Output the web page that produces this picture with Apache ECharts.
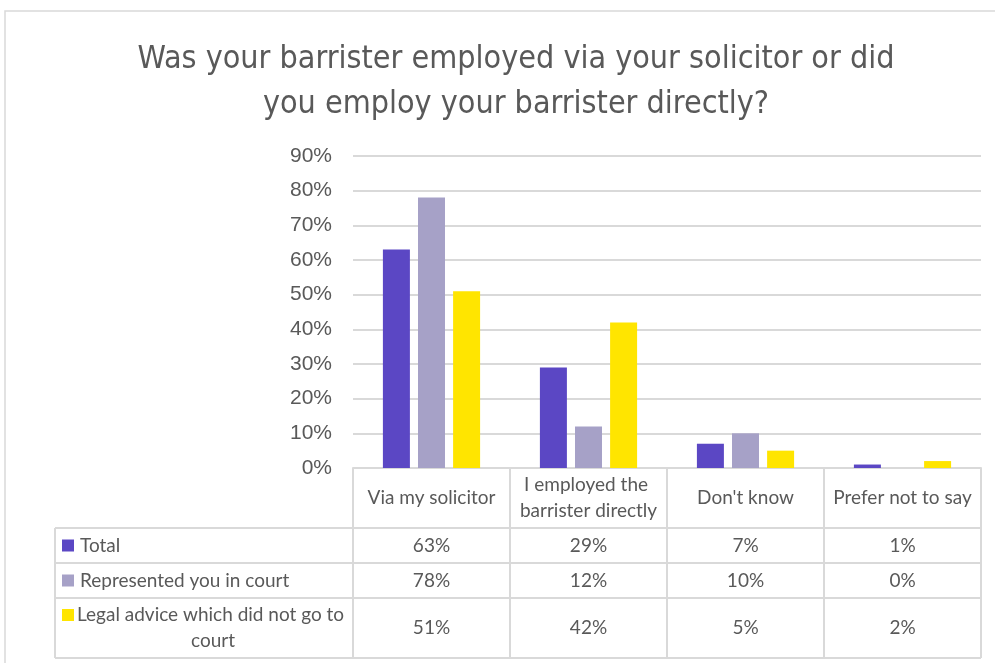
<!DOCTYPE html>
<html>
<head>
<meta charset="utf-8">
<script src="https://cdn.jsdelivr.net/npm/echarts@6/dist/echarts.min.js"></script>
<style>
  html, body { margin: 0; padding: 0; background: #ffffff; }
  #chart { width: 995px; height: 663px; }
</style>
</head>
<body>
<div id="chart"></div>
<script>
// Survey answers (percent of respondents)
const categories = ['Via my solicitor', 'I employed the barrister directly', "Don't know", 'Prefer not to say'];
const seriesNames = ['Total', 'Represented you in court', 'Legal advice which did not go to court'];
const totalValues = [63, 29, 7, 1];
const courtValues = [78, 12, 10, 0];
const adviceValues = [51, 42, 5, 2];
const yTicks = [0, 10, 20, 30, 40, 50, 60, 70, 80, 90];

const colors = ['#5b47c4', '#a6a1c7', '#ffe500'];
const seriesValues = [totalValues, courtValues, adviceValues];
const textColor = '#595959';
const lineColor = '#d9d9d9';
const tableFont = 'Lato, "Open Sans", sans-serif';
const tableSize = 19;

const chart = echarts.init(document.getElementById('chart'), null, { renderer: 'canvas' });

// Plot area and data table geometry
const G = { left: 353, right: 14, top: 156, bottom: 195 };
const tableLeft = 55;
const headerBottom = 528;
const rowBounds = [528, 563, 598, 658];

chart.setOption({
  backgroundColor: '#ffffff',
  animation: false,
  title: {
    text: 'Was your barrister employed via your solicitor or did\nyou employ your barrister directly?',
    left: 511,
    top: 32,
    textAlign: 'center',
    textStyle: {
      fontFamily: '"DejaVu Sans Condensed", sans-serif',
      fontSize: 32,
      fontWeight: 'normal',
      color: textColor,
      lineHeight: 45
    }
  },
  grid: { left: G.left, right: G.right, top: G.top, bottom: G.bottom, containLabel: false },
  xAxis: {
    type: 'category',
    data: categories,
    axisLine: { show: true, lineStyle: { color: lineColor, width: 2 } },
    axisTick: { show: true, alignWithLabel: false, length: 190, lineStyle: { color: lineColor, width: 2 } },
    axisLabel: {
      interval: 0,
      margin: 30,
      verticalAlign: 'middle',
      width: 150,
      overflow: 'break',
      lineHeight: 26,
      fontSize: tableSize,
      fontFamily: tableFont,
      color: textColor
    }
  },
  yAxis: {
    type: 'value',
    min: yTicks[0],
    max: yTicks[yTicks.length - 1],
    interval: yTicks[1] - yTicks[0],
    axisLine: { show: false },
    axisTick: { show: false },
    splitLine: { lineStyle: { color: lineColor, width: 2 } },
    axisLabel: {
      margin: 21,
      fontSize: 21,
      fontFamily: '"Liberation Sans", Arial, sans-serif',
      color: textColor,
      formatter: '{value}%'
    }
  },
  series: seriesNames.map((name, i) => ({
    name: name,
    type: 'bar',
    data: seriesValues[i],
    barWidth: 27,
    barGap: '30%',
    itemStyle: { color: colors[i] }
  }))
});

// Data table below the plot: row keys, row labels and the values of each series
function buildTable() {
  const els = [];
  const right = 995 - G.right;
  // outer frame of the chart area
  els.push({ type: 'rect', shape: { x: 5, y: 11, width: 1000, height: 700 }, style: { fill: 'none', stroke: lineColor, lineWidth: 1.5 }, silent: true });
  rowBounds.forEach(y => {
    els.push({ type: 'line', shape: { x1: tableLeft, y1: y, x2: right, y2: y }, style: { stroke: lineColor, lineWidth: 2 }, silent: true });
  });
  els.push({ type: 'line', shape: { x1: tableLeft, y1: headerBottom, x2: tableLeft, y2: rowBounds[rowBounds.length - 1] }, style: { stroke: lineColor, lineWidth: 2 }, silent: true });

  seriesNames.forEach((name, r) => {
    const y0 = rowBounds[r], y1 = rowBounds[r + 1];
    const cy = (y0 + y1) / 2;
    const wraps = name.length > 30;
    const keyY = wraps ? y0 + 11 : cy - 6;
    els.push({ type: 'rect', shape: { x: 62, y: keyY, width: 12, height: 12 }, style: { fill: colors[r] }, silent: true });
    els.push({
      type: 'text',
      x: wraps ? 213 : 80,
      y: cy,
      style: {
        text: name,
        width: 285,
        overflow: 'break',
        lineHeight: 26,
        font: tableSize + 'px ' + tableFont,
        fill: textColor,
        align: wraps ? 'center' : 'left',
        verticalAlign: 'middle'
      },
      silent: true
    });
    seriesValues[r].forEach((v, c) => {
      const x = chart.convertToPixel({ xAxisIndex: 0 }, c);
      els.push({
        type: 'text',
        x: x,
        y: cy,
        style: { text: v + '%', font: tableSize + 'px ' + tableFont, fill: textColor, align: 'center', verticalAlign: 'middle' },
        silent: true
      });
    });
  });
  return els;
}

chart.setOption({ graphic: { elements: buildTable() } });
</script>
</body>
</html>
